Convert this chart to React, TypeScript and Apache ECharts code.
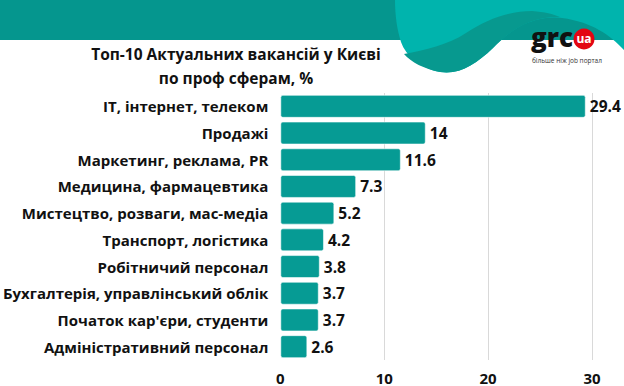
import React, { useEffect, useRef } from "react";
import * as echarts from "echarts";

const categories = [
  "IT, інтернет, телеком",
  "Продажі",
  "Маркетинг, реклама, PR",
  "Медицина, фармацевтика",
  "Мистецтво, розваги, мас-медіа",
  "Транспорт, логістика",
  "Робітничий персонал",
  "Бухгалтерія, управлінський облік",
  "Початок кар'єри, студенти",
  "Адміністративний персонал",
];
const values = [29.4, 14, 11.6, 7.3, 5.2, 4.2, 3.8, 3.7, 3.7, 2.6];
const titleLines = ["Топ-10 Актуальних вакансій у Києві", "по проф сферам, %"];
const logoText = "grc";
const logoBadge = "ua";
const logoSlogan = "більше ніж job портал";

const FONT = "'Open Sans', 'Noto Sans', sans-serif";

echarts.graphic.registerShape(
  "tealWave",
  echarts.graphic.extendPath(
    "M395,0 L624,0 L624,50 C610,35 592,22 562,18 C532,15 510,30 493,48 C476,64 460,75 440,72 C420,68 406,56 401,42 C397,30 395,15 395,0 Z",
    {}
  )
);
echarts.graphic.registerShape(
  "darkBand",
  echarts.graphic.extendPath(
    "M404,54 C425,50 448,45 466,33 C486,20 508,11 532,11 C545,12 553,14 560,17 C532,16 510,30 493,48 C476,64 460,75 440,72 C424,69 411,62 404,54 Z",
    {}
  )
);

export default function App() {
  const ref = useRef<HTMLDivElement>(null);
  useEffect(() => {
    if (!ref.current) return;
    const chart = echarts.init(ref.current, null, { renderer: "svg" });
    chart.setOption({
      animation: false,
      backgroundColor: "#ffffff",
      grid: { left: 280, right: 32, top: 93, bottom: 26, containLabel: false },
      xAxis: {
        type: "value",
        min: 0,
        max: 30,
        interval: 10,
        axisLine: { show: false },
        axisTick: { show: false },
        axisLabel: {
          fontFamily: FONT,
          fontWeight: "bold",
          fontSize: 15,
          color: "#111111",
          margin: 10,
        },
        splitLine: {
          show: true,
          lineStyle: {
            color: ["rgba(0,0,0,0)", "#d9d9d9", "#d9d9d9", "#d9d9d9"],
            width: 1,
          },
        },
      },
      yAxis: {
        type: "category",
        data: categories,
        inverse: true,
        axisLine: { show: false },
        axisTick: { show: false },
        axisLabel: {
          fontFamily: FONT,
          fontWeight: "bold",
          fontSize: 15,
          color: "#111111",
          margin: 12,
        },
      },
      series: [
        {
          type: "bar",
          data: values,
          barCategoryGap: "14%",
          itemStyle: {
            color: "#069b94",
            borderColor: "rgba(255,255,255,0.55)",
            borderWidth: 1,
            borderRadius: 2,
          },
          label: {
            show: true,
            position: "right",
            distance: 4,
            fontFamily: FONT,
            fontWeight: "bold",
            fontSize: 15.5,
            color: "#111111",
          },
        },
      ],
      graphic: [
        {
          type: "rect",
          shape: { x: 0, y: 0, width: 624, height: 40 },
          style: { fill: "#05968e" },
          z: 1,
        },
        { type: "tealWave", x: 0, y: 0, style: { fill: "#00b4ad" }, z: 2 },
        { type: "darkBand", x: 0, y: 0, style: { fill: "#07998f" }, z: 3 },
        {
          type: "text",
          x: 531,
          y: 37,
          style: {
            text: logoText,
            fontFamily: FONT,
            fontWeight: 800,
            fontSize: 26,
            fill: "#111111",
            textAlign: "left",
            textVerticalAlign: "middle",
          },
          z: 5,
        },
        {
          type: "circle",
          shape: { cx: 584, cy: 39, r: 10.5 },
          style: { fill: "#e30613" },
          z: 5,
        },
        {
          type: "text",
          x: 584,
          y: 38,
          style: {
            text: logoBadge,
            fontFamily: FONT,
            fontWeight: "bold",
            fontSize: 12,
            fill: "#ffffff",
            textAlign: "center",
            textVerticalAlign: "middle",
          },
          z: 6,
        },
        {
          type: "text",
          x: 532,
          y: 60,
          style: {
            text: logoSlogan,
            fontFamily: FONT,
            fontSize: 6.5,
            fill: "#333333",
            textAlign: "left",
            textVerticalAlign: "middle",
          },
          z: 5,
        },
        {
          type: "text",
          x: 236,
          y: 54,
          style: {
            text: titleLines[0],
            fontFamily: FONT,
            fontWeight: "bold",
            fontSize: 15.5,
            fill: "#111111",
            textAlign: "center",
            textVerticalAlign: "middle",
          },
          z: 5,
        },
        {
          type: "text",
          x: 236,
          y: 78,
          style: {
            text: titleLines[1],
            fontFamily: FONT,
            fontWeight: "bold",
            fontSize: 15.5,
            fill: "#111111",
            textAlign: "center",
            textVerticalAlign: "middle",
          },
          z: 5,
        },
      ],
    });
    return () => chart.dispose();
  }, []);
  return (
    <div
      ref={ref}
      style={{ position: "absolute", left: 0, top: 0, width: 624, height: 386 }}
    />
  );
}
